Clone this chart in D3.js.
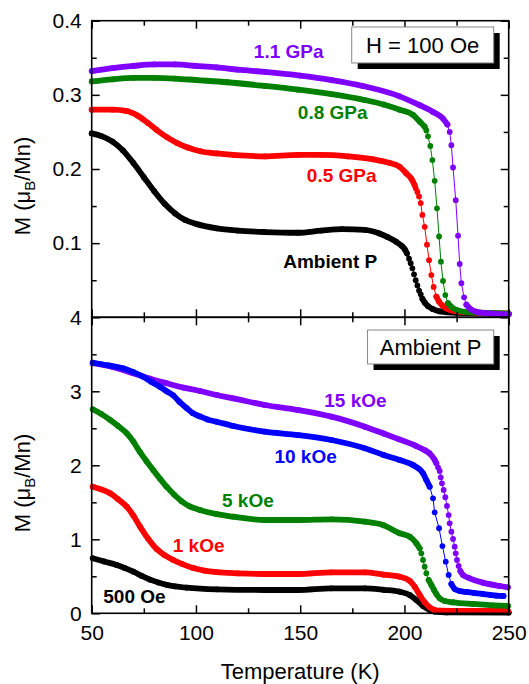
<!DOCTYPE html>
<html><head><meta charset="utf-8">
<script src="https://cdn.jsdelivr.net/npm/d3@7"></script>
<style>
html,body{margin:0;padding:0;background:#fff;}
svg{display:block;font-family:Arial,"Liberation Sans",sans-serif;}
</style></head>
<body>
<svg id="chart" width="529" height="684"></svg>
<script>
// ---------- DATA (Temperature K, M in muB/Mn) ----------
const xTicks = [50, 100, 150, 200, 250];
const xMinor = [75, 125, 175, 225];
const topTicks = [0.1, 0.2, 0.3, 0.4];
const topTickLabels = ["0.1", "0.2", "0.3", "0.4"];
const topMinor = [0.05, 0.15, 0.25, 0.35];
const botTicks = [0, 1, 2, 3, 4];
const botTickLabels = ["0", "1", "2", "3", "4"];
const botMinor = [0.5, 1.5, 2.5, 3.5];

// Top panel: H = 100 Oe, various pressures
const ambientTop = [[50,0.248],[55,0.244],[60,0.237],[65,0.225],[70,0.208],[75,0.189],[80,0.170],[85,0.153],[90,0.140],[95,0.131],[100,0.126],[110,0.120],[120,0.117],[133,0.115],[149,0.114],[160,0.117],[170,0.119],[181,0.118],[188,0.113],[192,0.108],[196,0.102],[198.8,0.096],[200.1,0.092],[201.2,0.086],[202.2,0.079],[203,0.073],[203.8,0.066],[204.6,0.058],[205.4,0.050],[206.2,0.043],[207,0.036],[207.8,0.031],[208.6,0.025],[209.7,0.020],[211.3,0.015],[213.7,0.011],[216.9,0.008],[225,0.006],[250,0.005]];
const gpa05 = [[50,0.280],[60,0.280],[67,0.278],[72,0.272],[77,0.262],[81,0.253],[86,0.243],[91,0.235],[96,0.229],[102,0.224],[110,0.221],[118,0.219],[133,0.217],[149,0.219],[160,0.219],[173,0.217],[185,0.213],[193,0.208],[197.7,0.203],[200.9,0.194],[203.3,0.187],[204.9,0.178],[205.4,0.174],[206.2,0.169],[207,0.163],[207.8,0.154],[208.6,0.138],[209.7,0.122],[210.8,0.098],[211.8,0.077],[212.9,0.057],[214,0.041],[215.3,0.028],[216.6,0.021],[218.2,0.016],[220.1,0.012],[225,0.008],[235,0.006],[250,0.005]];
const gpa08 = [[50,0.318],[60,0.321],[70,0.323],[80,0.323],[90,0.322],[100,0.320],[115,0.317],[133,0.312],[149,0.307],[165,0.301],[181,0.293],[190,0.287],[197.7,0.280],[204.1,0.273],[207.3,0.264],[209.7,0.257],[210.5,0.252],[211.3,0.244],[212.4,0.231],[213.4,0.212],[214.5,0.184],[215.6,0.147],[216.6,0.109],[217.5,0.075],[218.5,0.049],[219.6,0.030],[220.9,0.019],[222.5,0.014],[224.9,0.010],[230,0.007],[240,0.006],[250,0.005]];
const gpa11 = [[50,0.332],[60,0.336],[70,0.339],[80,0.341],[90,0.341],[100,0.339],[110,0.337],[120,0.334],[133,0.331],[150,0.326],[165,0.320],[180,0.312],[197.7,0.298],[207.3,0.286],[213.7,0.277],[218.5,0.268],[220.6,0.260],[221.7,0.250],[222.5,0.232],[223.3,0.202],[224.6,0.158],[225.7,0.110],[226.5,0.072],[227.3,0.046],[228.6,0.027],[229.7,0.017],[231.3,0.012],[235,0.007],[242,0.005],[250,0.004]];

// Bottom panel: ambient pressure, various fields
const oe500 = [[50.5,0.743],[56,0.700],[62,0.653],[66,0.610],[70,0.562],[74,0.505],[78,0.455],[82,0.415],[86,0.385],[90,0.365],[95.5,0.347],[109.9,0.324],[133,0.315],[149,0.315],[165,0.338],[181,0.338],[190,0.318],[197.7,0.292],[202.5,0.247],[205.7,0.180],[208.9,0.099],[212.1,0.045],[214.5,0.022],[220,0.012],[250,0.010]];
const koe1 = [[50.5,1.711],[54.5,1.675],[58.8,1.622],[62.5,1.545],[66.8,1.441],[70,1.320],[73.1,1.175],[77,1.010],[81.1,0.870],[85,0.785],[89.1,0.720],[93.5,0.665],[98.7,0.612],[104,0.578],[109.9,0.556],[120,0.540],[133,0.531],[149,0.531],[165,0.554],[181,0.554],[190,0.522],[197.7,0.495],[202.5,0.441],[204.9,0.360],[207.3,0.247],[209.7,0.149],[212.1,0.081],[214.5,0.045],[216.9,0.035],[229.7,0.031],[249.6,0.031]];
const koe5 = [[50.5,2.757],[54.5,2.695],[58.8,2.615],[62.5,2.535],[66.8,2.432],[70,2.320],[73.1,2.180],[76.3,2.055],[79.5,1.936],[82.7,1.820],[85.9,1.711],[89.5,1.605],[93.1,1.515],[97,1.445],[101.9,1.396],[110,1.340],[117.9,1.305],[133,1.261],[149,1.261],[165,1.270],[181,1.238],[190,1.190],[197.7,1.081],[202.5,1.035],[205.7,0.946],[207.3,0.878],[208.1,0.811],[208.9,0.720],[209.7,0.630],[210.5,0.541],[211.6,0.450],[212.9,0.383],[214.2,0.315],[215.3,0.261],[216.9,0.203],[219.3,0.166],[223.3,0.149],[232.9,0.126],[242.5,0.108],[249.6,0.099]];
const koe15 = [[50.5,3.380],[60,3.330],[70,3.243],[78,3.170],[86,3.108],[94,3.050],[101.9,3.004],[110,2.950],[117.9,2.905],[133,2.815],[149,2.747],[165,2.657],[181,2.522],[190,2.430],[197.5,2.350],[205.7,2.260],[210,2.200],[212.1,2.160],[214.5,2.072],[215.3,2.027],[216.1,1.973],[216.9,1.923],[217.4,1.838],[218,1.757],[218.8,1.666],[219.6,1.568],[220.4,1.450],[221.2,1.328],[221.7,1.216],[222.5,1.103],[223.3,1.004],[224.1,0.900],[224.6,0.811],[225.2,0.720],[226,0.639],[226.8,0.572],[228.1,0.518],[231.3,0.473],[237.6,0.414],[245.6,0.369],[249.6,0.351]];
const koe10 = [[50.5,3.386],[58,3.350],[65.1,3.311],[70,3.260],[74.7,3.197],[78.5,3.130],[82.7,3.062],[86,3.000],[89.1,2.945],[92,2.860],[95.5,2.775],[98.5,2.705],[101.9,2.660],[105.5,2.620],[109.9,2.589],[117.9,2.531],[133,2.454],[149,2.409],[165,2.342],[181,2.230],[190,2.140],[197.7,2.072],[204.1,2.004],[208.9,1.892],[210.5,1.801],[212.1,1.711],[213.7,1.554],[214.5,1.365],[216.6,1.149],[218.2,0.909],[219.8,0.697],[221.2,0.518],[222.5,0.396],[224.1,0.328],[226.5,0.301],[229.7,0.288],[233.5,0.275],[237.6,0.261],[241,0.250],[244,0.238],[247.5,0.234]];

const topSeries = [
  {name:"Ambient P", data:ambientTop, color:"#000000", label:[164.4,0.066]},
  {name:"0.5 GPa", data:gpa05, color:"#ff0000", label:[169.9,0.183]},
  {name:"0.8 GPa", data:gpa08, color:"#008000", label:[165.6,0.267]},
  {name:"1.1 GPa", data:gpa11, color:"#8000ff", label:[144.5,0.350]}
];
const botSeries = [
  {name:"500 Oe", data:oe500, color:"#000000", label:[70.5,0.135]},
  {name:"1 kOe", data:koe1, color:"#ff0000", label:[101.3,0.832]},
  {name:"5 kOe", data:koe5, color:"#008000", label:[124.9,1.432]},
  {name:"15 kOe", data:koe15, color:"#8000ff", label:[176.5,2.792]},
  {name:"10 kOe", data:koe10, color:"#0000ff", label:[152.6,2.035]}
];
const topBox = {text:"H = 100 Oe", t0:174.7, t1:242.8, m0:0.343, m1:0.3915};
const botBox = {text:"Ambient P", t0:182.3, t1:242.8, m0:3.369, m1:3.828};

// ---------- SCALES ----------
const svg = d3.select("#chart");
const x = d3.scaleLinear().domain([50, 250]).range([91.7, 508.7]);
const yTop = d3.scaleLinear().domain([0, 0.4]).range([317.3, 20.7]);
const yBot = d3.scaleLinear().domain([0, 4]).range([613.3, 317.3]);

const MAJ = 8, MIN = 5;

function drawSeries(g, y, s) {
  const pts = s.data.map(d => [x(d[0]), y(d[1])]);
  // thin connecting line
  g.append("path").attr("d", d3.line()(pts))
    .attr("fill","none").attr("stroke",s.color).attr("stroke-width",1);
  // thick runs where measured points are so dense they merge (gentle slope)
  let runs = [], cur = [pts[0]];
  for (let i = 1; i < pts.length; i++) {
    const dx = Math.abs(pts[i][0]-pts[i-1][0]), dy = Math.abs(pts[i][1]-pts[i-1][1]);
    if (dy <= 2.2*dx) { cur.push(pts[i]); }
    else { if (cur.length > 1) runs.push(cur); cur = [pts[i]]; }
  }
  if (cur.length > 1) runs.push(cur);
  const thick = d3.line().curve(d3.curveMonotoneX);
  runs.forEach(r => g.append("path").attr("d", thick(r))
    .attr("fill","none").attr("stroke",s.color).attr("stroke-width",5.8)
    .attr("stroke-linecap","round").attr("stroke-linejoin","round"));
  // markers
  g.selectAll(null).data(s.data).enter().append("circle")
    .attr("cx", d => x(d[0])).attr("cy", d => y(d[1])).attr("r", 2.9)
    .attr("fill", s.color);
  // label
  g.append("text").attr("x", x(s.label[0])).attr("y", y(s.label[1]))
    .attr("text-anchor","middle").attr("font-weight","bold").attr("font-size",19)
    .attr("fill", s.color).text(s.name);
}

function drawBox(g, y, b) {
  const x0 = x(b.t0), x1 = x(b.t1), y0 = y(b.m1), y1 = y(b.m0);
  g.append("rect").attr("x", x0+6).attr("y", y0+6).attr("width", x1-x0).attr("height", y1-y0).attr("fill","#000");
  g.append("rect").attr("x", x0).attr("y", y0).attr("width", x1-x0).attr("height", y1-y0)
    .attr("fill","#fff").attr("stroke","#888").attr("stroke-width",1);
  g.append("text").attr("x",(x0+x1)/2).attr("y",(y0+y1)/2).attr("dy","0.36em")
    .attr("text-anchor","middle").attr("font-size",22).attr("fill","#000").text(b.text);
}

function styleAxis(sel) {
  sel.select(".domain").remove();
  sel.selectAll(".tick line").attr("stroke","#000").attr("stroke-width",1.5);
  sel.selectAll(".tick text").attr("font-size",21).attr("fill","#000")
    .attr("font-family",'Arial,"Liberation Sans",sans-serif');
}

function drawFrame(y, yMaj, yMajLabels, yMin, showX) {
  const [yb, yt] = y.range();
  const g = svg.append("g");
  const la = g.append("g").attr("transform",`translate(${x.range()[0]},0)`)
    .call(d3.axisLeft(y).tickValues(yMaj).tickFormat((d,i)=>yMajLabels[i]).tickSize(-MAJ).tickPadding(10));
  styleAxis(la);
  styleAxis(g.append("g").attr("transform",`translate(${x.range()[0]},0)`)
    .call(d3.axisLeft(y).tickValues(yMin).tickFormat("").tickSize(-MIN)));
  styleAxis(g.append("g").attr("transform",`translate(${x.range()[1]},0)`)
    .call(d3.axisRight(y).tickValues(yMaj).tickFormat("").tickSize(-MAJ)));
  styleAxis(g.append("g").attr("transform",`translate(${x.range()[1]},0)`)
    .call(d3.axisRight(y).tickValues(yMin).tickFormat("").tickSize(-MIN)));
  styleAxis(g.append("g").attr("transform",`translate(0,${yt})`)
    .call(d3.axisTop(x).tickValues(xTicks).tickFormat("").tickSize(-MAJ)));
  styleAxis(g.append("g").attr("transform",`translate(0,${yt})`)
    .call(d3.axisTop(x).tickValues(xMinor).tickFormat("").tickSize(-MIN)));
  const ba = g.append("g").attr("transform",`translate(0,${yb})`)
    .call(d3.axisBottom(x).tickValues(xTicks).tickFormat(showX ? d3.format("d") : "").tickSize(-MAJ).tickPadding(12));
  styleAxis(ba);
  styleAxis(g.append("g").attr("transform",`translate(0,${yb})`)
    .call(d3.axisBottom(x).tickValues(xMinor).tickFormat("").tickSize(-MIN)));
  g.append("rect").attr("x", x.range()[0]).attr("y", yt)
    .attr("width", x.range()[1]-x.range()[0]).attr("height", yb-yt)
    .attr("fill","none").attr("stroke","#000").attr("stroke-width",1.6);
}

// top panel
const gTop = svg.append("g");
topSeries.forEach(s => drawSeries(gTop, yTop, s));
drawFrame(yTop, topTicks, topTickLabels, topMinor, false);
drawBox(svg.append("g"), yTop, topBox);

// bottom panel
const gBot = svg.append("g");
botSeries.forEach(s => drawSeries(gBot, yBot, s));
drawFrame(yBot, botTicks, botTickLabels, botMinor, true);
drawBox(svg.append("g"), yBot, botBox);

// axis titles
function yTitle(cy) {
  const t = svg.append("text").attr("transform",`translate(30,${cy}) rotate(-90)`)
    .attr("text-anchor","middle").attr("font-size",22).attr("fill","#000");
  t.append("tspan").text("M (\u03bc");
  t.append("tspan").attr("font-size",15).attr("dy",5).text("B");
  t.append("tspan").attr("dy",-5).text("/Mn)");
}
yTitle(186);
yTitle(483);
svg.append("text").attr("x", (x.range()[0]+x.range()[1])/2).attr("y", 679)
  .attr("text-anchor","middle").attr("font-size",22).attr("fill","#000").text("Temperature (K)");
</script>
</body></html>
